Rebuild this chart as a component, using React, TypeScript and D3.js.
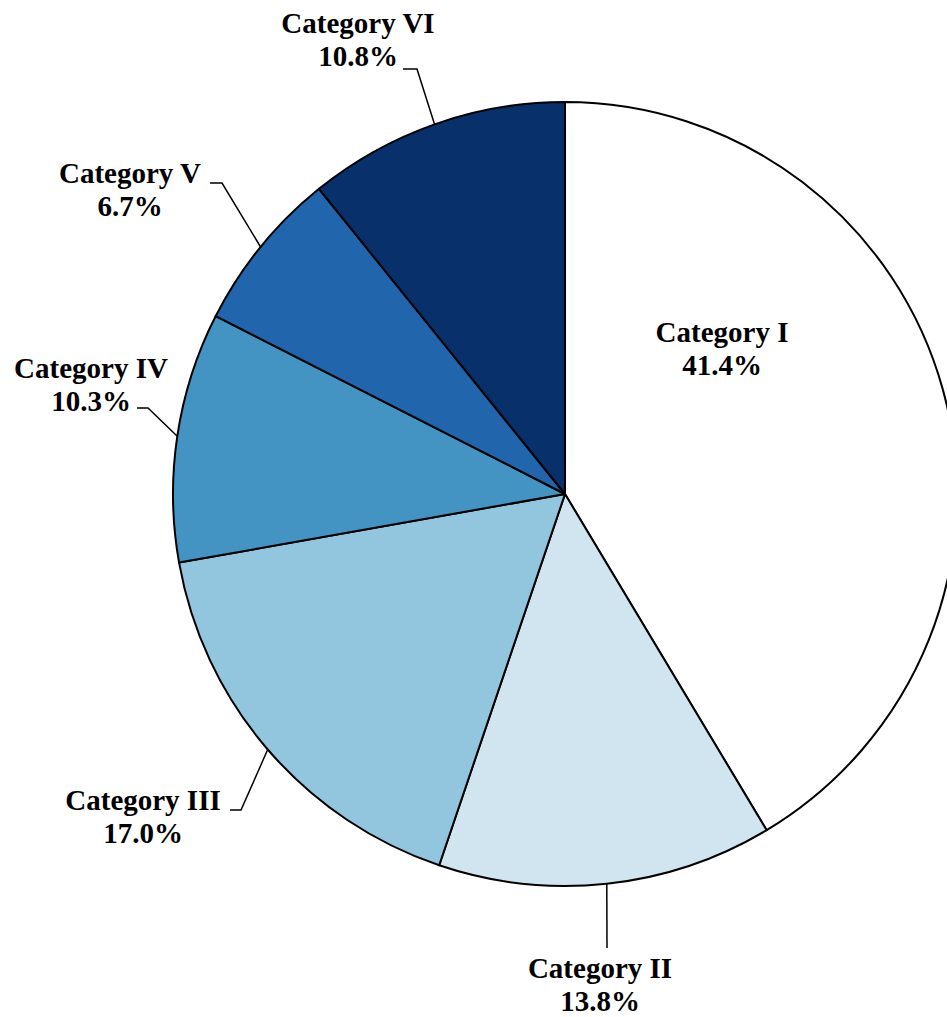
import React from "react";
import * as d3 from "d3";

const categories = ["Category I", "Category II", "Category III", "Category IV", "Category V", "Category VI"];
const values = [41.4, 13.8, 17.0, 10.3, 6.7, 10.8];
const colors = ["#ffffff", "#d1e5f0", "#92c5de", "#4393c3", "#2166ac", "#08306b"];

// label layout relative to pie center: text center x, first baseline y, leader elbow, leader text end
const labelLayout = [
  { tx: 157, ty: -152, leader: null as null | number[][] },
  { tx: 35, ty: 484, leader: [[42, 454]] },
  { tx: -422, ty: 316, leader: [[-324, 316], [-335, 316]] },
  { tx: -474, ty: -116, leader: [[-417, -86], [-428, -86]] },
  { tx: -435, ty: -311, leader: [[-343, -311], [-355, -311]] },
  { tx: -207, ty: -461, leader: [[-148, -425], [-162, -425]] },
];

const W = 947;
const H = 1017;
const cx = 565;
const cy = 494;
const R = 392;
const FONT = 29;
const LINE = 33;

export default function App() {
  const pie = d3.pie<number>().sort(null).value((d) => d)(values);
  const arc = d3.arc<d3.PieArcDatum<number>>().innerRadius(0).outerRadius(R);
  return (
    <svg width={W} height={H} style={{ position: "absolute", left: 0, top: 0, background: "#fff" }}>
      <g transform={`translate(${cx},${cy})`}>
        {pie.map((p, i) => (
          <path key={i} d={arc(p) || ""} fill={colors[i]} stroke="#000" strokeWidth={2} strokeLinejoin="round" />
        ))}
        {pie.map((p, i) => {
          const L = labelLayout[i];
          if (!L.leader) return null;
          const mid = (p.startAngle + p.endAngle) / 2;
          const start = [R * Math.sin(mid), -R * Math.cos(mid)];
          const pts = [start, ...L.leader];
          return (
            <polyline
              key={"l" + i}
              points={pts.map((q) => q.join(",")).join(" ")}
              fill="none"
              stroke="#000"
              strokeWidth={1.5}
            />
          );
        })}
        {pie.map((p, i) => {
          const L = labelLayout[i];
          return (
            <text
              key={"t" + i}
              x={L.tx}
              y={L.ty}
              textAnchor="middle"
              fontFamily="'Liberation Serif', 'Times New Roman', serif"
              fontWeight="bold"
              fontSize={FONT}
              fill="#000"
            >
              <tspan x={L.tx} dy={0}>{categories[i]}</tspan>
              <tspan x={L.tx} dy={LINE}>{values[i].toFixed(1)}%</tspan>
            </text>
          );
        })}
      </g>
    </svg>
  );
}
